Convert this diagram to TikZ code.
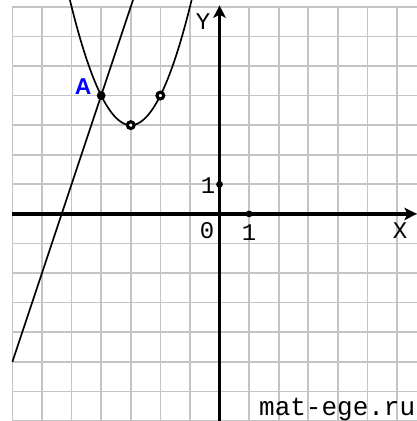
\documentclass[tikz,border=0pt]{standalone}
\usepackage{fontspec}
\setmonofont{Liberation Mono}
\setsansfont{Liberation Sans}
\usetikzlibrary{arrows.meta}
\definecolor{gridc}{HTML}{C4C4C4}
\definecolor{ptc}{HTML}{0000FF}
\tikzset{
  gridl/.style ={draw=gridc,line width=1.6pt},
  axis/.style  ={line width=3.4pt,-{Stealth[length=12pt,width=12pt,inset=3pt]}},
  curve/.style ={line width=1.6pt},
  lab/.style   ={font=\fontsize{23}{23}\selectfont\ttfamily,inner sep=0pt},
  wmark/.style ={font=\fontsize{25}{25}\selectfont\ttfamily,inner sep=0pt},
  ptlab/.style ={font=\fontsize{22}{22}\selectfont\sffamily\bfseries,text=ptc,inner sep=0pt},
  dotf/.style  ={circle,fill=black,inner sep=0pt,minimum size=8.5pt},
  dotr/.style  ={circle,draw=black,line width=3pt,fill=white,inner sep=0pt,minimum size=6.5pt},
  tickd/.style ={circle,fill=black,inner sep=0pt,minimum size=6.5pt},
}

\begin{document}
\begin{tikzpicture}
\useasboundingbox (-7.42,-7) rectangle (6.67,7.23);

% ============================ grid ======================================
\begin{scope}
  \clip (-7.42,-7) rectangle (6.67,7.23);
  \foreach \x in {-7,...,6} \draw[gridl] (\x,-7.2) -- (\x,7);
  \foreach \y in {-7,...,7} \draw[gridl] (-7,\y) -- (6.8,\y);
\end{scope}

% ============================ axes ======================================
\coordinate (xs) at (-7,0);
\coordinate (xe) at (6.67,0);
\coordinate (ys) at (0,-7.1);
\coordinate (ye) at (0,7.05);
\draw[axis] (xs) -- (xe);
\draw[axis] (ys) -- (ye);
\node[tickd] (t1x) at (1,0) {};
\node[tickd] (t1y) at (0,1) {};
\node[lab] (lx) at (6.1,-0.57) {X};
\node[lab] (ly) at (-0.56,6.49) {Y};
\node[lab] (l0) at (-0.42,-0.57) {0};
\node[lab] (l1x) at (1.0,-0.64) {1};
\node[lab] (l1y) at (-0.39,0.95) {1};

% ============================ graphs ====================================
\begin{scope}
  \clip (-7.42,-7) rectangle (6.67,7.23);
  \draw[curve,domain=-5.2:-0.8,samples=80] plot (\x,{(\x+3)*(\x+3)+3});
  \draw[curve] (-7,-5) -- (-2.85,7.45);
\end{scope}
\node[dotf] (A) at (-4,4) {};
\node[dotr] (V) at (-3,3) {};
\node[dotr] (B) at (-2,4) {};
\node[ptlab] (lA) at (-4.61,4.29) {A};

\node[wmark,anchor=east] (wm) at (6.62,-6.62) {mat-ege.ru};
\end{tikzpicture}
\end{document}
